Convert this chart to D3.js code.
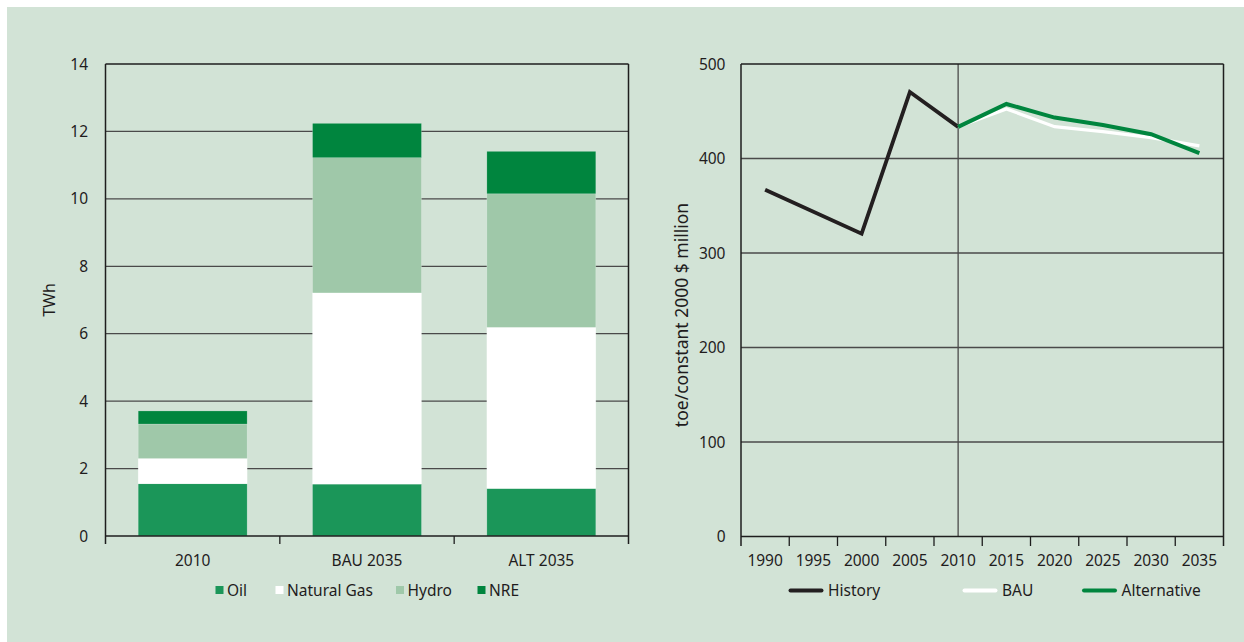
<!DOCTYPE html>
<html><head><meta charset="utf-8">
<script src="https://cdn.jsdelivr.net/npm/d3@7"></script>
<style>
html,body{margin:0;padding:0;background:#fff;}
svg{display:block;}
text{font-family:"Noto Sans",sans-serif;fill:#1f1c1d;}
</style></head>
<body>
<svg id="chart" width="1244" height="642"></svg>
<script>
// ---- Left chart data (TWh) ----
const categories = ["2010", "BAU 2035", "ALT 2035"];
const oil = [1.55, 1.54, 1.41];
const naturalGas = [0.75, 5.67, 4.78];
const hydro = [1.02, 4.01, 3.96];
const nre = [0.39, 1.02, 1.26];
const seriesNames = ["Oil", "Natural Gas", "Hydro", "NRE"];
const twhTicks = [0, 2, 4, 6, 8, 10, 12, 14];

// ---- Right chart data (toe/constant 2000 $ million) ----
const years = ["1990", "1995", "2000", "2005", "2010", "2015", "2020", "2025", "2030", "2035"];
const historyYears = ["1990", "2000", "2005", "2010"];
const historyValues = [367, 320.5, 470.3, 433.5];
const scenarioYears = ["2010", "2015", "2020", "2025", "2030", "2035"];
const bauValues = [433.5, 452.5, 433.7, 428.4, 422.1, 413.3];
const altValues = [433.5, 457.7, 443.3, 435.5, 425.7, 405.6];
const intensityTicks = [0, 100, 200, 300, 400, 500];
const lineNames = ["History", "BAU", "Alternative"];

const BG = "#d2e3d6", GRID = "#4a4a4a", FRAME = "#1e1e1e";
const colors = {"Oil": "#1b9659", "Natural Gas": "#ffffff", "Hydro": "#9fc8a9", "NRE": "#00853e"};
const lineColors = {"History": "#231f20", "BAU": "#ffffff", "Alternative": "#00853e"};

const svg = d3.select("#chart");
svg.append("rect").attr("x", 7).attr("y", 7).attr("width", 1237).attr("height", 635).attr("fill", BG);

// ================= LEFT CHART =================
(function(){
  const L = 105.5, R = 628.5, T = 64, B = 536;
  const x = d3.scaleBand().domain(categories).range([L, R]).paddingInner(0.375).paddingOuter(0.1875);
  const y = d3.scaleLinear().domain([0, 14]).range([B, T]);
  const g = svg.append("g");

  g.selectAll("line.grid").data(twhTicks.filter(t => t > 0 && t < 14)).join("line")
    .attr("x1", L).attr("x2", R).attr("y1", d => y(d)).attr("y2", d => y(d))
    .attr("stroke", GRID).attr("stroke-width", 1.3);

  const rows = categories.map((c, i) => ({cat: c, "Oil": oil[i], "Natural Gas": naturalGas[i], "Hydro": hydro[i], "NRE": nre[i]}));
  const stack = d3.stack().keys(seriesNames)(rows);
  g.selectAll("g.series").data(stack).join("g")
    .attr("fill", d => colors[d.key])
    .selectAll("rect").data(d => d).join("rect")
    .attr("x", d => x(d.data.cat)).attr("width", x.bandwidth())
    .attr("y", d => y(d[1])).attr("height", d => y(d[0]) - y(d[1]))
    .attr("stroke", "rgba(255,255,255,0.35)").attr("stroke-width", 0.6);

  g.append("line").attr("x1", L).attr("x2", R).attr("y1", T).attr("y2", T).attr("stroke", FRAME).attr("stroke-width", 1.5);
  g.append("line").attr("x1", L).attr("x2", R).attr("y1", B).attr("y2", B).attr("stroke", FRAME).attr("stroke-width", 1.5);
  g.append("line").attr("x1", L).attr("x2", L).attr("y1", T).attr("y2", B + 8).attr("stroke", FRAME).attr("stroke-width", 1.5);
  g.append("line").attr("x1", R).attr("x2", R).attr("y1", T).attr("y2", B + 8).attr("stroke", FRAME).attr("stroke-width", 1.5);
  const step = x.step();
  categories.slice(1).forEach((c, i) => {
    const xx = L + step * (i + 1);
    g.append("line").attr("x1", xx).attr("x2", xx).attr("y1", B).attr("y2", B + 8).attr("stroke", FRAME).attr("stroke-width", 1.3);
  });

  g.selectAll("text.yt").data(twhTicks).join("text")
    .attr("x", 88).attr("y", d => y(d) + 5.5).attr("text-anchor", "end")
    .style("font-size", "15.5px").text(d => d);

  g.selectAll("text.xt").data(categories).join("text")
    .attr("x", d => x(d) + x.bandwidth() / 2).attr("y", 566).attr("text-anchor", "middle")
    .style("font-size", "15.5px").text(d => d);

  g.append("text").attr("transform", "translate(55,300) rotate(-90)").attr("text-anchor", "middle")
    .style("font-size", "16px").text("TWh");

  const legX = [215.5, 275.5, 396, 477.5];
  seriesNames.forEach((s, i) => {
    g.append("rect").attr("x", legX[i]).attr("y", 586).attr("width", 8).attr("height", 8).attr("fill", colors[s]);
    g.append("text").attr("x", legX[i] + 11.5).attr("y", 596).style("font-size", "15.5px").text(s);
  });
})();

// ================= RIGHT CHART =================
(function(){
  const L = 741, R = 1223.5, T = 64, B = 536.5;
  const x = d3.scaleBand().domain(years).range([L, R]);
  const cx = d => x(d) + x.bandwidth() / 2;
  const y = d3.scaleLinear().domain([0, 500]).range([B, T]);
  const g = svg.append("g");

  g.selectAll("line.grid").data(intensityTicks.filter(t => t > 0 && t < 500)).join("line")
    .attr("x1", L).attr("x2", R).attr("y1", d => y(d)).attr("y2", d => y(d))
    .attr("stroke", GRID).attr("stroke-width", 1.3);
  g.append("line").attr("x1", cx("2010")).attr("x2", cx("2010")).attr("y1", T).attr("y2", B)
    .attr("stroke", GRID).attr("stroke-width", 1.3);

  g.append("line").attr("x1", L).attr("x2", R).attr("y1", T).attr("y2", T).attr("stroke", FRAME).attr("stroke-width", 1.5);
  g.append("line").attr("x1", L).attr("x2", R).attr("y1", B).attr("y2", B).attr("stroke", FRAME).attr("stroke-width", 1.5);
  g.append("line").attr("x1", L).attr("x2", L).attr("y1", T).attr("y2", B + 9.5).attr("stroke", FRAME).attr("stroke-width", 1.5);
  g.append("line").attr("x1", R).attr("x2", R).attr("y1", T).attr("y2", B + 9.5).attr("stroke", FRAME).attr("stroke-width", 1.5);
  g.selectAll("line.tick").data(years.slice(1)).join("line")
    .attr("x1", d => x(d)).attr("x2", d => x(d)).attr("y1", B).attr("y2", B + 9.5)
    .attr("stroke", FRAME).attr("stroke-width", 1.3);

  const line = d3.line().x(d => cx(d[0])).y(d => y(d[1]));
  const hist = historyYears.map((yr, i) => [yr, historyValues[i]]);
  const bau = scenarioYears.map((yr, i) => [yr, bauValues[i]]);
  const alt = scenarioYears.map((yr, i) => [yr, altValues[i]]);
  g.append("path").attr("d", line(hist)).attr("fill", "none").attr("stroke", lineColors["History"]).attr("stroke-width", 3.8);
  g.append("path").attr("d", line(bau)).attr("fill", "none").attr("stroke", lineColors["BAU"]).attr("stroke-width", 3.2);
  g.append("path").attr("d", line(alt)).attr("fill", "none").attr("stroke", lineColors["Alternative"]).attr("stroke-width", 4);

  g.selectAll("text.yt").data(intensityTicks).join("text")
    .attr("x", 725.5).attr("y", d => y(d) + 5.5).attr("text-anchor", "end")
    .style("font-size", "15.5px").text(d => d);
  g.selectAll("text.xt").data(years).join("text")
    .attr("x", d => cx(d)).attr("y", 566).attr("text-anchor", "middle")
    .style("font-size", "15.5px").text(d => d);
  g.append("text").attr("transform", "translate(687.5,315) rotate(-90)").attr("text-anchor", "middle")
    .style("font-size", "17.5px").text("toe/constant 2000 $ million");

  const legX = [790.5, 964.5, 1084];
  lineNames.forEach((s, i) => {
    g.append("line").attr("x1", legX[i]).attr("x2", legX[i] + 31).attr("y1", 590.5).attr("y2", 590.5)
      .attr("stroke", lineColors[s]).attr("stroke-width", 4).attr("stroke-linecap", "round");
    g.append("text").attr("x", legX[i] + 37.5).attr("y", 596).style("font-size", "15.5px").text(s);
  });
})();
</script>
</body></html>
